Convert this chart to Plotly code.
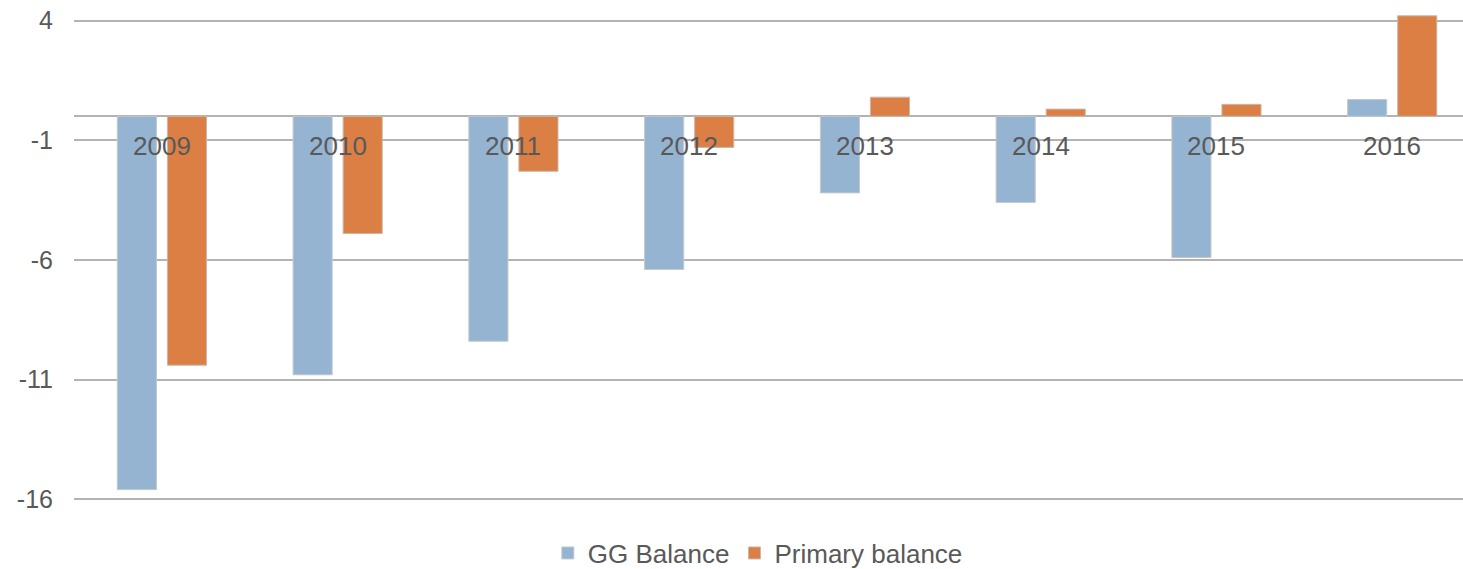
import plotly.graph_objects as go

years = ["2009", "2010", "2011", "2012", "2013", "2014", "2015", "2016"]
gg_balance = [-15.6, -10.8, -9.4, -6.4, -3.2, -3.6, -5.9, 0.7]
primary_balance = [-10.4, -4.9, -2.3, -1.3, 0.8, 0.3, 0.5, 4.2]
y_ticks = [4, -1, -6, -11, -16]

FONT = "Liberation Sans, Arial, sans-serif"
TEXT = "#595959"
GRID = "#B3B3B3"

fig = go.Figure()
fig.add_trace(go.Bar(
    x=years, y=gg_balance, name="GG Balance",
    marker=dict(color="#94B4D2", line=dict(color="#C4C8CC", width=1)),
    width=0.2226, offset=-0.2535,
))
fig.add_trace(go.Bar(
    x=years, y=primary_balance, name="Primary balance",
    marker=dict(color="#DC7F45", line=dict(color="#C9B8AC", width=1)),
    width=0.2226, offset=0.0313,
))

# category labels sit just below the zero line, drawn over the bars
# (positioned by category index so the year strings are not read as numbers)
for i, yr in enumerate(years):
    fig.add_annotation(
        x=i, y=0, xref="x", yref="y", text=yr, showarrow=False,
        yshift=-30, yanchor="middle",
        font=dict(family=FONT, size=26, color=TEXT),
    )

fig.update_layout(
    width=1463, height=569,
    margin=dict(l=73.6, r=0, t=11.4, b=64.5),
    paper_bgcolor="white", plot_bgcolor="white",
    barmode="overlay",
    showlegend=True,
    legend=dict(
        orientation="h", x=0.518, xanchor="center", xref="container",
        y=0.028, yanchor="middle", yref="container",
        font=dict(family=FONT, size=26, color=TEXT),
        itemwidth=30, traceorder="normal",
    ),
    xaxis=dict(
        type="category", range=[-0.5, 7.403],
        showticklabels=False, showgrid=False, zeroline=False,
        showline=False, ticks="",
    ),
    yaxis=dict(
        range=[-16.2, 4.4], tickvals=y_ticks,
        ticktext=[str(v) for v in y_ticks],
        showgrid=True, gridcolor=GRID, gridwidth=1.5,
        zeroline=True, zerolinecolor=GRID, zerolinewidth=1.5,
        showline=False, ticks="", ticklabelstandoff=20,
        tickfont=dict(family=FONT, size=25, color=TEXT),
    ),
)

fig.write_html("out.html")
